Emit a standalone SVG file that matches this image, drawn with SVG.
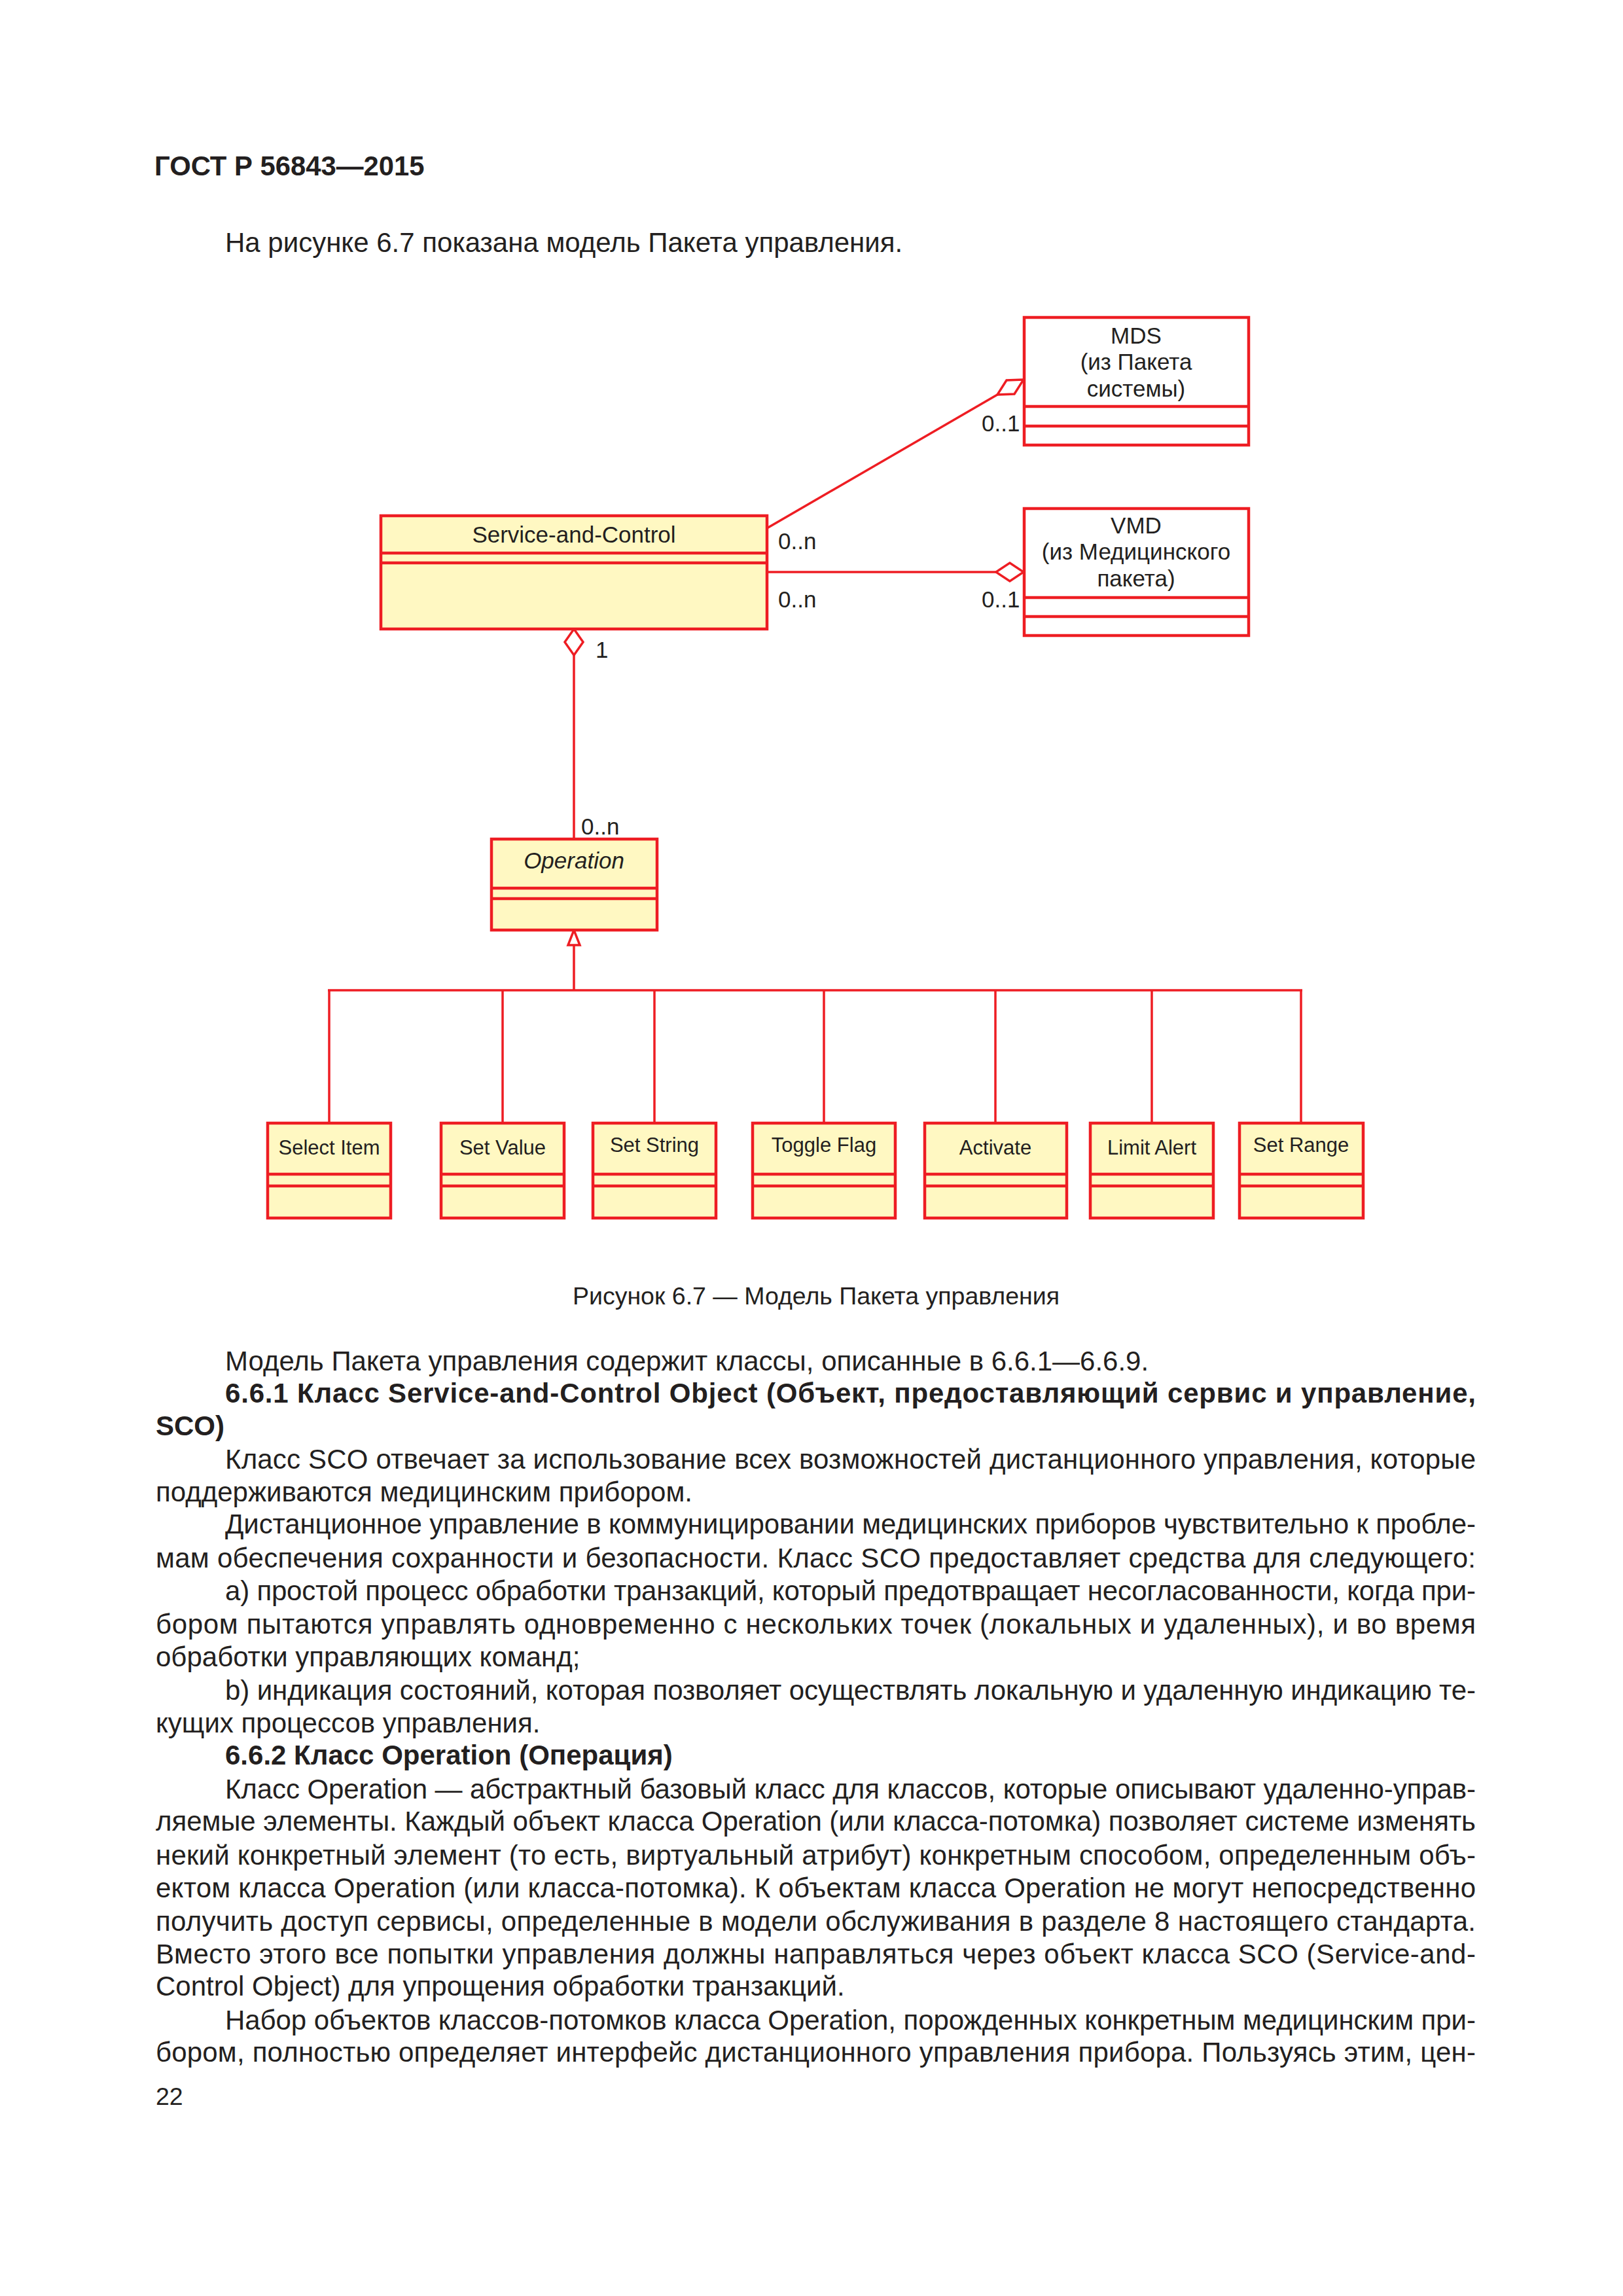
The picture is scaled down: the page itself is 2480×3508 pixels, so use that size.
<svg xmlns="http://www.w3.org/2000/svg" width="2480" height="3508" viewBox="0 0 2480 3508">
<style>
.t{font-family:"Liberation Sans",Arial,sans-serif;fill:#231F20}
.b{font-weight:bold}
.body{font-size:42px}
.d{font-size:35px}
.s{font-size:31px;text-anchor:middle}
.c{text-anchor:middle}
.box{fill:#FFF8C2;stroke:#EE1D23;stroke-width:4.5}
.wbox{fill:#FFFFFF;stroke:#EE1D23;stroke-width:4.5}
.sep{stroke:#EE1D23;stroke-width:4.5}
.conn{stroke:#EE1D23;stroke-width:3.5;fill:none}
.dia{fill:#FFFFFF;stroke:#EE1D23;stroke-width:3.5}
</style>
<rect width="2480" height="3508" fill="#FFFFFF"/>
<text class="t b" x="236" y="268" font-size="41.8">ГОСТ Р 56843—2015</text>
<text class="t body" x="344" y="385">На рисунке 6.7 показана модель Пакета управления.</text>

<g id="connectors">
<line class="conn" x1="1172" y1="807" x2="1524" y2="603"/>
<polygon class="dia" points="1564,580 1538,581 1524,603 1550,602"/>
<line class="conn" x1="1172" y1="874" x2="1522" y2="874"/>
<polygon class="dia" points="1522,874 1543,860 1564,874 1543,888"/>
<line class="conn" x1="877" y1="1001" x2="877" y2="1282"/>
<polygon class="dia" points="877,961 891,981 877,1001 863,981"/>
<polygon class="dia" points="877,1421 868,1444 886,1444"/>
<line class="conn" x1="877" y1="1444" x2="877" y2="1513"/>
<line class="conn" x1="501" y1="1513" x2="1990" y2="1513" stroke-width="4.5"/>
<line class="conn" x1="503" y1="1513" x2="503" y2="1716"/>
<line class="conn" x1="768" y1="1513" x2="768" y2="1716"/>
<line class="conn" x1="1000" y1="1513" x2="1000" y2="1716"/>
<line class="conn" x1="1259" y1="1513" x2="1259" y2="1716"/>
<line class="conn" x1="1521" y1="1513" x2="1521" y2="1716"/>
<line class="conn" x1="1760" y1="1513" x2="1760" y2="1716"/>
<line class="conn" x1="1988" y1="1513" x2="1988" y2="1716"/>
<text class="t d" x="1189" y="839">0..n</text>
<text class="t d" x="1500" y="659">0..1</text>
<text class="t d" x="1189" y="928">0..n</text>
<text class="t d" x="1500" y="928">0..1</text>
<text class="t d" x="910" y="1005">1</text>
<text class="t d" x="888" y="1275">0..n</text>
</g>

<g id="mds">
<rect class="wbox" x="1565" y="485" width="343" height="195"/>
<line class="sep" x1="1565" y1="621" x2="1908" y2="621"/>
<line class="sep" x1="1565" y1="651" x2="1908" y2="651"/>
<text class="t d c" x="1736" y="525">MDS</text>
<text class="t d c" x="1736" y="565">(из Пакета</text>
<text class="t d c" x="1736" y="606">системы)</text>
</g>

<g id="vmd">
<rect class="wbox" x="1565" y="777" width="343" height="194"/>
<line class="sep" x1="1565" y1="913" x2="1908" y2="913"/>
<line class="sep" x1="1565" y1="942" x2="1908" y2="942"/>
<text class="t d c" x="1736" y="815">VMD</text>
<text class="t d c" x="1736" y="855">(из Медицинского</text>
<text class="t d c" x="1736" y="896">пакета)</text>
</g>

<g id="service-and-control">
<rect class="box" x="582" y="788" width="590" height="173"/>
<line class="sep" x1="582" y1="845" x2="1172" y2="845"/>
<line class="sep" x1="582" y1="860" x2="1172" y2="860"/>
<text class="t d c" x="877" y="829">Service-and-Control</text>
</g>

<g id="operation">
<rect class="box" x="751" y="1282" width="253" height="139"/>
<line class="sep" x1="751" y1="1357" x2="1004" y2="1357"/>
<line class="sep" x1="751" y1="1373" x2="1004" y2="1373"/>
<text class="t d c" x="877" y="1327" font-style="italic">Operation</text>
</g>

<g id="select-item">
<rect class="box" x="409" y="1716" width="188" height="145"/>
<line class="sep" x1="409" y1="1794" x2="597" y2="1794"/>
<line class="sep" x1="409" y1="1812" x2="597" y2="1812"/>
<text class="t s" x="503" y="1764">Select Item</text>
</g>
<g id="set-value">
<rect class="box" x="674" y="1716" width="188" height="145"/>
<line class="sep" x1="674" y1="1794" x2="862" y2="1794"/>
<line class="sep" x1="674" y1="1812" x2="862" y2="1812"/>
<text class="t s" x="768" y="1764">Set Value</text>
</g>
<g id="set-string">
<rect class="box" x="906" y="1716" width="188" height="145"/>
<line class="sep" x1="906" y1="1794" x2="1094" y2="1794"/>
<line class="sep" x1="906" y1="1812" x2="1094" y2="1812"/>
<text class="t s" x="1000" y="1760">Set String</text>
</g>
<g id="toggle-flag">
<rect class="box" x="1150" y="1716" width="218" height="145"/>
<line class="sep" x1="1150" y1="1794" x2="1368" y2="1794"/>
<line class="sep" x1="1150" y1="1812" x2="1368" y2="1812"/>
<text class="t s" x="1259" y="1760">Toggle Flag</text>
</g>
<g id="activate">
<rect class="box" x="1413" y="1716" width="217" height="145"/>
<line class="sep" x1="1413" y1="1794" x2="1630" y2="1794"/>
<line class="sep" x1="1413" y1="1812" x2="1630" y2="1812"/>
<text class="t s" x="1521" y="1764">Activate</text>
</g>
<g id="limit-alert">
<rect class="box" x="1666" y="1716" width="188" height="145"/>
<line class="sep" x1="1666" y1="1794" x2="1854" y2="1794"/>
<line class="sep" x1="1666" y1="1812" x2="1854" y2="1812"/>
<text class="t s" x="1760" y="1764">Limit Alert</text>
</g>
<g id="set-range">
<rect class="box" x="1894" y="1716" width="189" height="145"/>
<line class="sep" x1="1894" y1="1794" x2="2083" y2="1794"/>
<line class="sep" x1="1894" y1="1812" x2="2083" y2="1812"/>
<text class="t s" x="1988" y="1760">Set Range</text>
</g>

<text class="t c" x="1247" y="1993" font-size="37.5">Рисунок 6.7 — Модель Пакета управления</text>

<g id="body-text">
<text class="t body" x="344" y="2094">Модель Пакета управления содержит классы, описанные в 6.6.1—6.6.9.</text>
<text class="t body b" x="344" y="2143" textLength="1911" lengthAdjust="spacing">6.6.1 Класс Service-and-Control Object (Объект, предоставляющий сервис и управление,</text>
<text class="t body b" x="238" y="2193">SCO)</text>
<text class="t body" x="344" y="2244" textLength="1911" lengthAdjust="spacing">Класс SCO отвечает за использование всех возможностей дистанционного управления, которые</text>
<text class="t body" x="238" y="2294">поддерживаются медицинским прибором.</text>
<text class="t body" x="344" y="2343" textLength="1911" lengthAdjust="spacing">Дистанционное управление в коммуницировании медицинских приборов чувствительно к пробле-</text>
<text class="t body" x="238" y="2395" textLength="2017" lengthAdjust="spacing">мам обеспечения сохранности и безопасности. Класс SCO предоставляет средства для следующего:</text>
<text class="t body" x="344" y="2445" textLength="1911" lengthAdjust="spacing">а) простой процесс обработки транзакций, который предотвращает несогласованности, когда при-</text>
<text class="t body" x="238" y="2496" textLength="2017" lengthAdjust="spacing">бором пытаются управлять одновременно с нескольких точек (локальных и удаленных), и во время</text>
<text class="t body" x="238" y="2546">обработки управляющих команд;</text>
<text class="t body" x="344" y="2597" textLength="1911" lengthAdjust="spacing">b) индикация состояний, которая позволяет осуществлять локальную и удаленную индикацию те-</text>
<text class="t body" x="238" y="2647">кущих процессов управления.</text>
<text class="t body b" x="344" y="2696">6.6.2 Класс Operation (Операция)</text>
<text class="t body" x="344" y="2748" textLength="1911" lengthAdjust="spacing">Класс Operation — абстрактный базовый класс для классов, которые описывают удаленно-управ-</text>
<text class="t body" x="238" y="2797" textLength="2017" lengthAdjust="spacing">ляемые элементы. Каждый объект класса Operation (или класса-потомка) позволяет системе изменять</text>
<text class="t body" x="238" y="2849" textLength="2017" lengthAdjust="spacing">некий конкретный элемент (то есть, виртуальный атрибут) конкретным способом, определенным объ-</text>
<text class="t body" x="238" y="2899" textLength="2017" lengthAdjust="spacing">ектом класса Operation (или класса-потомка). К объектам класса Operation не могут непосредственно</text>
<text class="t body" x="238" y="2950" textLength="2017" lengthAdjust="spacing">получить доступ сервисы, определенные в модели обслуживания в разделе 8 настоящего стандарта.</text>
<text class="t body" x="238" y="3000" textLength="2017" lengthAdjust="spacing">Вместо этого все попытки управления должны направляться через объект класса SCO (Service-and-</text>
<text class="t body" x="238" y="3049">Control Object) для упрощения обработки транзакций.</text>
<text class="t body" x="344" y="3101" textLength="1911" lengthAdjust="spacing">Набор объектов классов-потомков класса Operation, порожденных конкретным медицинским при-</text>
<text class="t body" x="238" y="3150" textLength="2017" lengthAdjust="spacing">бором, полностью определяет интерфейс дистанционного управления прибора. Пользуясь этим, цен-</text>
<text class="t" x="238" y="3216" font-size="37.5">22</text>
</g>
</svg>
